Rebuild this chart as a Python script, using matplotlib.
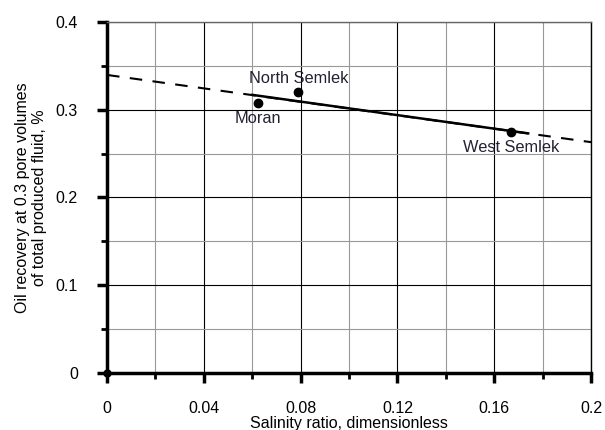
import numpy as np
import matplotlib.pyplot as plt
from matplotlib.ticker import MultipleLocator

plt.rcParams['font.family'] = ['Liberation Sans', 'DejaVu Sans']

# field data
fields = ['Moran', 'North Semlek', 'West Semlek']
salinity = [0.0624, 0.079, 0.167]
recovery = [0.3075, 0.320, 0.2745]

# trend line (fit and extrapolation)
fit_x = [0.060, 0.174]
fit_y = [0.3169, 0.2730]
ext_x = [0.0, 0.2]
ext_y = [0.3396, 0.2630]

fig = plt.figure(figsize=(6.05, 4.3), dpi=100)
ax = fig.add_axes([0.177, 0.1326, 0.8, 0.8164])

ax.set_xlim(0, 0.2)
ax.set_ylim(0, 0.4)
ax.xaxis.set_major_locator(MultipleLocator(0.04))
ax.xaxis.set_minor_locator(MultipleLocator(0.02))
ax.yaxis.set_major_locator(MultipleLocator(0.1))
ax.yaxis.set_minor_locator(MultipleLocator(0.05))

ax.grid(which='major', color='black', lw=0.8)
ax.grid(which='minor', color='#999999', lw=0.8)
ax.set_axisbelow(True)

ax.spines['top'].set_color('#666666')
ax.spines['top'].set_linewidth(1.0)
ax.spines['right'].set_linewidth(1.0)
ax.spines['left'].set_linewidth(2.5)
ax.spines['bottom'].set_linewidth(2.5)

ax.tick_params(which='major', direction='out', length=7, width=2.5, labelsize=11.5)
ax.tick_params(axis='x', which='major', pad=13)
ax.tick_params(axis='y', which='major', pad=14)
ax.tick_params(which='minor', direction='out', length=4, width=2)
ax.xaxis.set_major_formatter(plt.FuncFormatter(lambda v, p: ('%g' % round(v, 2))))
ax.yaxis.set_major_formatter(plt.FuncFormatter(lambda v, p: ('%g' % round(v, 2))))

ax.plot(ext_x, ext_y, color='black', lw=1.5, ls=(0, (6, 5)))
ax.plot(fit_x, fit_y, color='black', lw=1.8)
ax.plot(salinity, recovery, 'o', color='black', ms=6)
ax.plot([0], [0], 'o', color='black', ms=5, clip_on=False, zorder=5)

offsets = {'Moran': (0, -11), 'North Semlek': (0, 10), 'West Semlek': (0, -11)}
for name, xv, yv in zip(fields, salinity, recovery):
    ax.annotate(name, (xv, yv), xytext=offsets[name], textcoords='offset points',
                ha='center', va='center', fontsize=11.8, color='#222233')

ax.set_xlabel('Salinity ratio, dimensionless', fontsize=11.5, labelpad=0)
ax.set_ylabel('Oil recovery at 0.3 pore volumes\nof total produced fluid, %', fontsize=11.5, labelpad=6)

fig.savefig('out.png', dpi=100)
